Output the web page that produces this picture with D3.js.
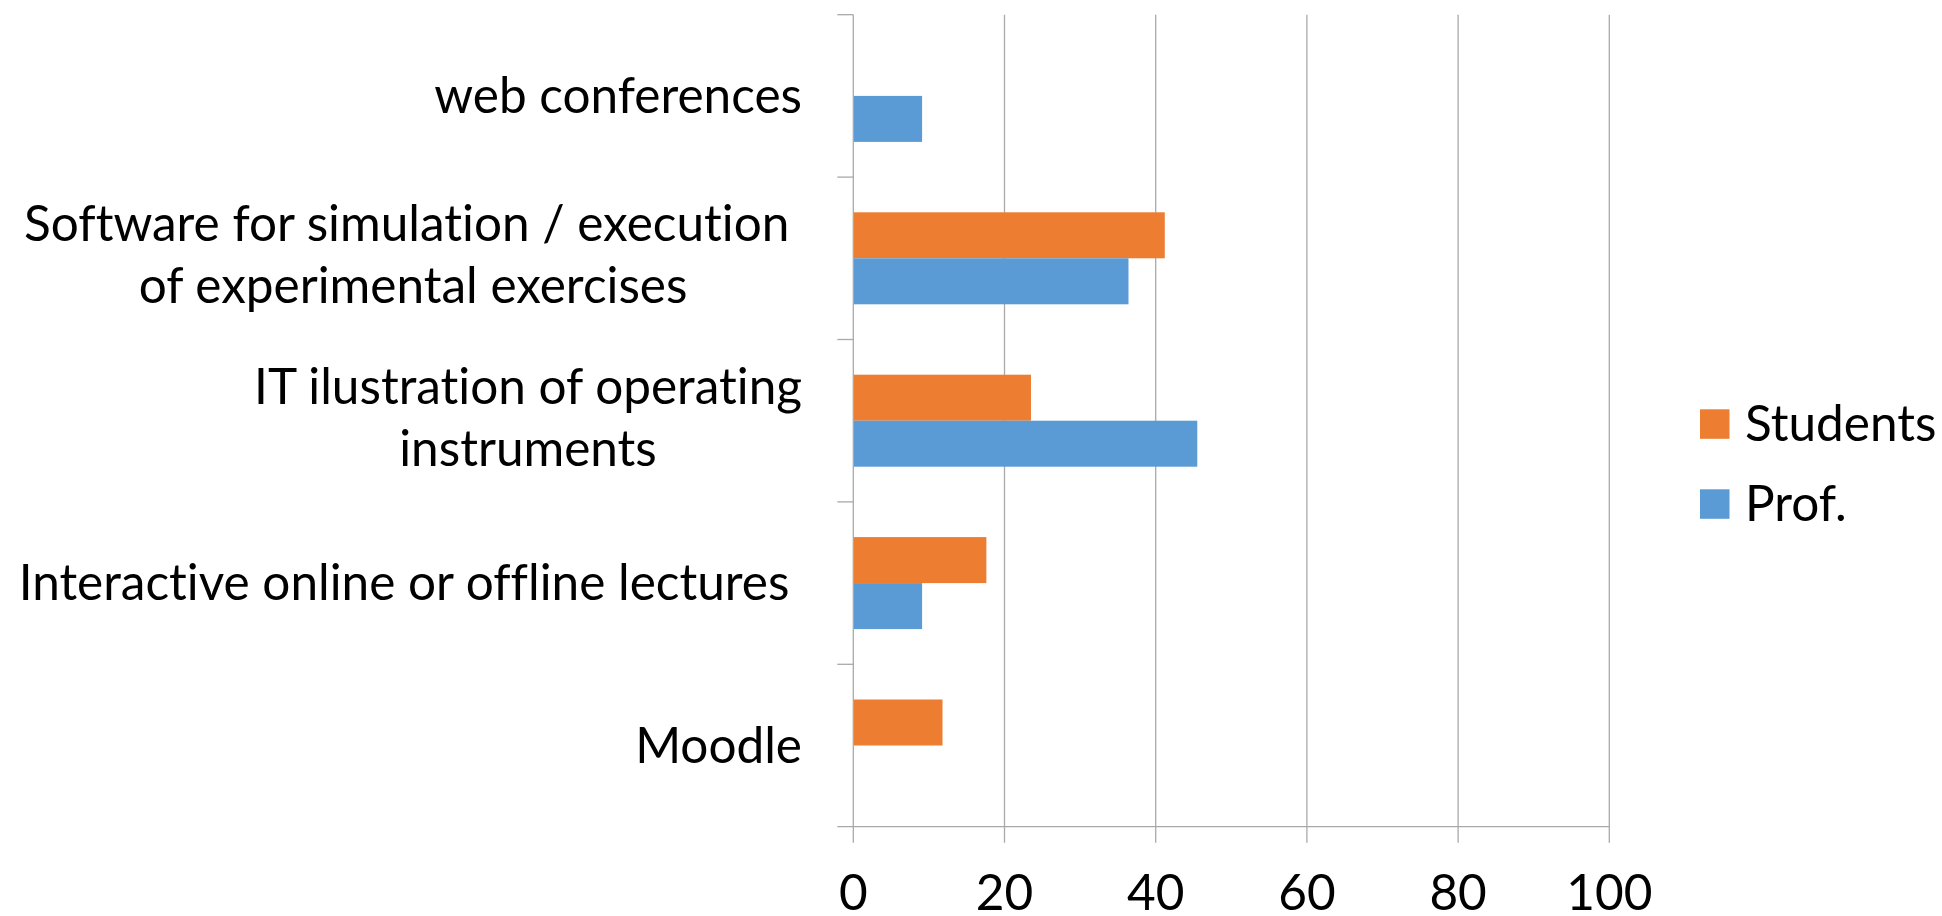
<!DOCTYPE html>
<html>
<head>
<meta charset="utf-8">
<script src="https://cdn.jsdelivr.net/npm/d3@7"></script>
<style>
  html, body { margin: 0; padding: 0; background: #fff; }
  svg { display: block; }
  text { font-family: Lato, "Open Sans", sans-serif; fill: #000; white-space: pre; font-variant-ligatures: none; font-feature-settings: "liga" 0, "clig" 0; }
</style>
</head>
<body>
<svg id="chart" width="1942" height="916"></svg>
<script>
// ---- data ----
const categories = [
  "web conferences",
  "Software for simulation / execution \nof experimental exercises",
  "IT ilustration of operating\ninstruments",
  "Interactive online or offline lectures ",
  "Moodle"
];
const seriesNames = ["Students", "Prof."];
const studentsValues = [0, 41.2, 23.5, 17.6, 11.8];
const profValues = [9.1, 36.4, 45.5, 9.1, 0];
const xTicks = [0, 20, 40, 60, 80, 100];
const seriesColors = ["#ED7D31", "#5B9BD5"];

// ---- layout ----
const svg = d3.select("#chart");
const FS = 49.5;
const plot = { left: 853.3, right: 1609.3, top: 14.7, bottom: 826.7 };
const tickLen = 16;
const gridColor = "#a9a9a9";

const x = d3.scaleLinear().domain([0, 100]).range([plot.left, plot.right]);
const y = d3.scaleBand().domain(categories).range([plot.top, plot.bottom])
  .paddingInner(0.4335).paddingOuter(0.4335 / 2);
const ySub = d3.scaleBand().domain(seriesNames).range([0, y.bandwidth()]).padding(0);
const color = d3.scaleOrdinal().domain(seriesNames).range(seriesColors);

const rows = categories.map((c, i) => ({ cat: c, values: [
  { key: "Students", v: studentsValues[i] },
  { key: "Prof.", v: profValues[i] }
]}));

// gridlines (vertical) extending down as ticks
svg.append("g").selectAll("line").data(xTicks.filter(t => t > 0)).join("line")
  .attr("x1", d => x(d)).attr("x2", d => x(d))
  .attr("y1", plot.top).attr("y2", plot.bottom + tickLen)
  .attr("stroke", gridColor).attr("stroke-width", 1.3);

// bars
const g = svg.append("g");
rows.forEach(r => {
  g.append("g").attr("transform", `translate(0,${y(r.cat)})`)
    .selectAll("rect").data(r.values.filter(d => d.v > 0)).join("rect")
    .attr("x", x(0))
    .attr("y", d => ySub(d.key))
    .attr("width", d => x(d.v) - x(0))
    .attr("height", ySub.bandwidth())
    .attr("fill", d => color(d.key));
});

// category axis line + ticks at band boundaries
const boundaries = d3.range(categories.length + 1).map(i => plot.top + i * (plot.bottom - plot.top) / categories.length);
svg.append("line").attr("x1", x(0)).attr("x2", x(0))
  .attr("y1", plot.top).attr("y2", plot.bottom + tickLen)
  .attr("stroke", gridColor).attr("stroke-width", 1.3);
svg.append("g").selectAll("line").data(boundaries.slice(0, -1)).join("line")
  .attr("x1", x(0) - tickLen).attr("x2", x(0))
  .attr("y1", d => d).attr("y2", d => d)
  .attr("stroke", gridColor).attr("stroke-width", 1.3);
// value axis line
svg.append("line").attr("x1", x(0) - tickLen).attr("x2", plot.right)
  .attr("y1", plot.bottom).attr("y2", plot.bottom)
  .attr("stroke", gridColor).attr("stroke-width", 1.3);

// x tick labels
svg.append("g").selectAll("text").data(xTicks).join("text")
  .attr("x", d => x(d)).attr("y", 910)
  .attr("text-anchor", "middle")
  .style("font-size", FS + "px")
  .text(d => d);

// category labels (lines centered relative to each other, block right-aligned)
const labelRight = 802;
categories.forEach(c => {
  const lines = c.split("\n");
  const cy = y(c) + y.bandwidth() / 2;
  const lg = svg.append("g");
  const texts = lines.map(l => lg.append("text").style("font-size", FS + "px").text(l));
  const widths = texts.map(t => t.node().getComputedTextLength());
  const bw = d3.max(widths);
  const cx = labelRight - bw / 2;
  const n = lines.length;
  const lineH = 62;
  texts.forEach((t, i) => {
    const base = cy + 17 + (i - (n - 1) / 2) * lineH - (n > 1 ? 3 : 0);
    t.attr("x", cx).attr("y", base).attr("text-anchor", "middle");
  });
});

// legend
const legend = svg.append("g");
seriesNames.forEach((s, i) => {
  const cy = 424 + i * 80;
  legend.append("rect").attr("x", 1700).attr("y", cy - 14.7).attr("width", 29.5).attr("height", 29.5)
    .attr("fill", color(s));
  legend.append("text").attr("x", 1745).attr("y", cy + 17)
    .style("font-size", FS + "px").text(s);
});
</script>
</body>
</html>
